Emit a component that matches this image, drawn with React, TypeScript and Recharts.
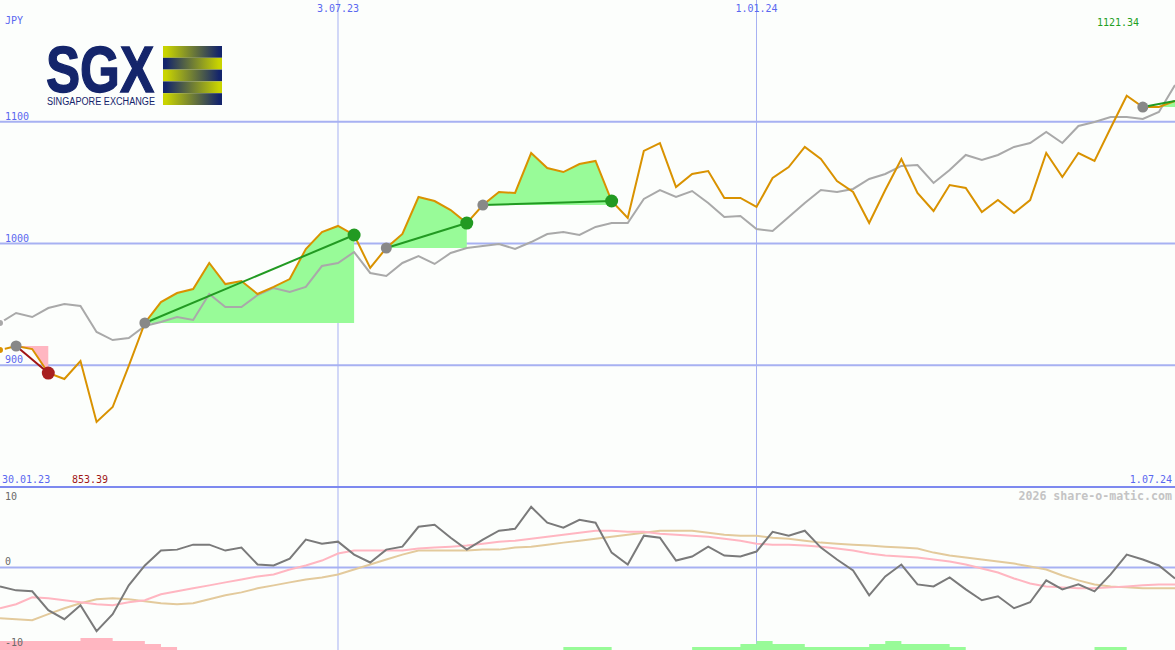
import React from "react";
import { Area, CartesianGrid, ComposedChart, Line, ReferenceLine, XAxis, YAxis } from "recharts";

// weekly closes, index 0 = first week shown
const price = [
  912.5, 915.8, 913.3, 893.6, 888.7, 903.5, 853.39, 865.7, 899.4, 934.7,
  951.9, 959.3, 962.6, 984.0, 966.7, 969.2, 958.5, 964.3, 970.8, 995.5,
  1009.4, 1014.4, 1007.0, 979.9, 996.3, 1007.8, 1038.2, 1034.9, 1027.5, 1016.8,
  1031.6, 1042.3, 1041.5, 1074.3, 1062.0, 1058.7, 1065.3, 1067.8, 1034.9, 1020.9,
  1076.0, 1082.5, 1046.4, 1057.1, 1059.5, 1037.4, 1037.4, 1030.0, 1053.8, 1062.8,
  1079.3, 1069.4, 1051.3, 1042.3, 1016.8, 1043.9, 1069.4, 1041.5, 1026.7, 1048.0,
  1045.6, 1025.9, 1035.7, 1025.0, 1035.7, 1074.3, 1054.6, 1074.3, 1067.8, 1094.9,
  1121.34, 1112.1, 1112.1, 1117.0,
];

// comparison index, rebased to the share price
const benchmark = [
  934.7, 942.9, 939.6, 947.0, 950.3, 948.7, 927.3, 920.7, 922.4, 932.2,
  935.5, 939.6, 937.2, 958.5, 947.8, 947.8, 957.7, 963.5, 960.2, 964.3,
  981.5, 984.0, 993.0, 975.8, 973.3, 984.0, 989.7, 983.2, 992.2, 996.3,
  997.9, 999.6, 995.5, 1001.2, 1007.8, 1009.4, 1007.0, 1013.6, 1016.8, 1016.8,
  1036.6, 1043.9, 1038.2, 1043.1, 1033.3, 1021.8, 1022.6, 1011.9, 1010.3, 1021.8,
  1033.3, 1043.9, 1042.3, 1044.8, 1053.0, 1057.1, 1063.7, 1064.5, 1049.7, 1060.4,
  1072.7, 1068.6, 1072.7, 1079.3, 1082.5, 1091.6, 1082.5, 1096.5, 1099.8, 1103.9,
  1103.9, 1102.3, 1108.0, 1130.2,
];

const momentum = [
  -2.35, -2.84, -2.96, -5.31, -6.42, -4.69, -7.9, -5.8, -2.22, 0.25,
  2.1, 2.22, 2.84, 2.84, 2.1, 2.47, 0.37, 0.25, 1.11, 3.46,
  2.96, 3.21, 1.6, 0.62, 2.22, 2.59, 5.06, 5.31, 3.7, 2.22,
  3.46, 4.57, 4.81, 7.53, 5.56, 4.94, 5.93, 5.56, 1.85, 0.37,
  3.95, 3.7, 0.86, 1.36, 2.59, 1.48, 1.36, 1.98, 4.44, 3.95,
  4.57, 2.47, 0.99, -0.37, -3.46, -1.11, 0.37, -2.1, -2.35, -1.23,
  -2.72, -4.07, -3.58, -5.06, -4.32, -1.6, -2.72, -2.1, -2.96, -0.86,
  1.6, 0.99, 0.25, -1.36,
];

const momentumAvg = [
  -5.06, -4.57, -3.7, -3.83, -4.07, -4.32, -4.57, -4.69, -4.32, -4.07,
  -3.33, -2.96, -2.59, -2.22, -1.85, -1.48, -1.11, -0.86, -0.25, 0.25,
  0.86, 1.73, 2.1, 2.1, 2.1, 2.1, 2.35, 2.47, 2.59, 2.72,
  2.96, 3.21, 3.33, 3.58, 3.83, 4.07, 4.32, 4.57, 4.57, 4.44,
  4.44, 4.2, 4.07, 3.95, 3.83, 3.58, 3.33, 2.96, 2.84, 2.84,
  2.72, 2.59, 2.35, 2.1, 1.73, 1.48, 1.36, 1.23, 0.99, 0.74,
  0.37, -0.12, -0.62, -1.36, -1.98, -2.35, -2.47, -2.59, -2.59, -2.47,
  -2.35, -2.22, -2.1, -2.1,
];

const momentumSlow = [
  -6.3, -6.42, -6.54, -5.8, -5.06, -4.44, -3.95, -3.83, -3.95, -4.2,
  -4.44, -4.57, -4.44, -3.95, -3.46, -3.09, -2.59, -2.22, -1.85, -1.48,
  -1.23, -0.86, -0.25, 0.37, 0.99, 1.6, 2.1, 2.1, 2.1, 2.1,
  2.22, 2.22, 2.47, 2.59, 2.84, 3.09, 3.33, 3.58, 3.83, 4.07,
  4.32, 4.57, 4.57, 4.57, 4.32, 4.07, 3.95, 3.95, 3.7, 3.58,
  3.33, 3.09, 2.96, 2.84, 2.72, 2.59, 2.47, 2.35, 1.85, 1.48,
  1.23, 0.99, 0.74, 0.49, 0.12, -0.25, -0.99, -1.6, -2.1, -2.35,
  -2.47, -2.59, -2.59, -2.59,
];

// signal strength blocks along the bottom
const weakBars = [
  3, 3, 3, 3, 3, 4, 4, 3, 3, 2,
  1, 0, 0, 0, 0, 0, 0, 0, 0, 0,
  0, 0, 0, 0, 0, 0, 0, 0, 0, 0,
  0, 0, 0, 0, 0, 0, 0, 0, 0, 0,
  0, 0, 0, 0, 0, 0, 0, 0, 0, 0,
  0, 0, 0, 0, 0, 0, 0, 0, 0, 0,
  0, 0, 0, 0, 0, 0, 0, 0, 0, 0,
  0, 0, 0, 0,
];
const strongBars = [
  0, 0, 0, 0, 0, 0, 0, 0, 0, 0,
  0, 0, 0, 0, 0, 0, 0, 0, 0, 0,
  0, 0, 0, 0, 0, 0, 0, 0, 0, 0,
  0, 0, 0, 0, 0, 1, 1, 1, 0, 0,
  0, 0, 0, 1, 1, 1, 2, 3, 2, 2,
  1, 1, 1, 1, 2, 3, 2, 2, 2, 1,
  0, 0, 0, 0, 0, 0, 0, 0, 1, 1,
  0, 0, 0, 0,
];

// trend segments (start / end week index)
const trendStarts = [1, 9, 24, 30, 71];
const trendEnds = [3, 22, 29, 38, 73];

const dateMarks = [
  { idx: 21, label: "3.07.23" },
  { idx: 47, label: "1.01.24" },
];
const firstDate = "30.01.23";
const lastDate = "1.07.24";
const priceTicks = [900, 1000, 1100];
const currency = "JPY";

const W = 1175;
const MONO = "DejaVu Sans Mono";
const BG = "#fcfefc";
const GRID = "#a7b1f2";
const DIVIDER = "#7d89ef";
const AXIS_TXT = "#5a68f0";
const ORANGE = "#d99200";
const GREY = "#a9a9a9";
const UP_FILL = "#98fb98";
const DOWN_FILL = "#ffb6c1";
const UP_LINE = "#229a22";
const DOWN_LINE = "#a01414";
const NAVY = "#14256b";
const YEL = "#c9d400";

const last = price.length - 1;
const dateIdx = dateMarks.map((d) => d.idx);

const rows = price.map((p, i) => {
  const row: any = { i, price: p, bench: benchmark[i] };
  trendStarts.forEach((s, k) => {
    const e = trendEnds[k];
    const base = price[s];
    const up = price[e] >= base;
    if (i >= s && i <= e) row[up ? (k % 2 ? "fillA" : "fillB") : "fillDown"] = [base, p];
    if (i === s || i === e) row["t" + k] = p;
  });
  return row;
});

const oscRows = momentum.map((m, i) => ({
  i,
  m,
  avg: momentumAvg[i],
  slow: momentumSlow[i],
  weak: weakBars[i],
  strong: strongBars[i],
}));

const lowVal = Math.min(...price);
const highVal = Math.max(...price);

const trendDot = (k: number) => (props: any) => {
  const { cx, cy, index, value } = props;
  if (value == null || cy == null) return <g key={`d${k}-${index}`} />;
  const s = trendStarts[k];
  const e = trendEnds[k];
  const up = price[e] >= price[s];
  if (index === s) return <circle key={`d${k}-${index}`} cx={cx} cy={cy} r={5.5} fill="#888888" />;
  if (index === e && e !== last)
    return <circle key={`d${k}-${index}`} cx={cx} cy={cy} r={6.5} fill={up ? UP_LINE : "#a82020"} />;
  return <g key={`d${k}-${index}`} />;
};

const aboveLabel = (txt: string, fill: string) => (props: any) => (
  <text x={props.viewBox.x + 5} y={props.viewBox.y - 2} fill={fill} fontSize={10} fontFamily={MONO}>
    {txt}
  </text>
);

const topLabel = (txt: string) => (props: any) => (
  <text x={props.viewBox.x} y={props.viewBox.y + 12} fill={AXIS_TXT} fontSize={10} fontFamily={MONO} textAnchor="middle">
    {txt}
  </text>
);

function Overlay() {
  return (
    <svg width={W} height={650} style={{ position: "absolute", left: 0, top: 0, pointerEvents: "none" }}>
      <defs>
        <linearGradient id="stripeL" x1="0" x2="1" y1="0" y2="0">
          <stop offset="0.05" stopColor={YEL} />
          <stop offset="0.95" stopColor={NAVY} />
        </linearGradient>
        <linearGradient id="stripeR" x1="0" x2="1" y1="0" y2="0">
          <stop offset="0.05" stopColor={NAVY} />
          <stop offset="0.95" stopColor={YEL} />
        </linearGradient>
      </defs>
      <text
        x={46}
        y={92}
        fontFamily="Liberation Sans"
        fontWeight={700}
        fontSize={65}
        fill={NAVY}
        stroke={NAVY}
        strokeWidth={1.4}
        textLength={108}
        lengthAdjust="spacingAndGlyphs"
      >
        SGX
      </text>
      <text x={47} y={105} fontFamily="Liberation Sans" fontSize={10} fill={NAVY} textLength={108} lengthAdjust="spacingAndGlyphs">
        SINGAPORE EXCHANGE
      </text>
      {[0, 1, 2, 3, 4].map((k) => (
        <rect key={k} x={163} y={46 + k * 11.8} width={59} height={11.8} fill={k % 2 ? "url(#stripeR)" : "url(#stripeL)"} />
      ))}
      <text x={5} y={24} fill={AXIS_TXT} fontSize={10} fontFamily={MONO}>{currency}</text>
      <text x={1097} y={26} fill="#22a022" fontSize={10} fontFamily={MONO}>{highVal.toFixed(2)}</text>
      <text x={2} y={483} fill={AXIS_TXT} fontSize={10} fontFamily={MONO}>{firstDate}</text>
      <text x={72} y={483} fill="#a01818" fontSize={10} fontFamily={MONO}>{lowVal.toFixed(2)}</text>
      <text x={1172} y={483} fill={AXIS_TXT} fontSize={10} fontFamily={MONO} textAnchor="end">{lastDate}</text>
      <text x={1172} y={500} fill="#c4c4c4" fontSize={11.6} fontWeight={700} fontFamily={MONO} textAnchor="end">
        2026 share-o-matic.com
      </text>
    </svg>
  );
}

export default function App() {
  return (
    <div style={{ position: "relative", width: W, height: 650, background: BG, overflow: "hidden" }}>
      <style>{"body{margin:0}"}</style>
      <div style={{ position: "absolute", left: 0, top: 0 }}>
        <ComposedChart width={W} height={487} data={rows} margin={{ top: 0, right: 0, bottom: 0, left: 0 }}>
          <XAxis type="number" dataKey="i" domain={[0, last]} ticks={dateIdx} hide />
          <YAxis domain={[800, 1200]} ticks={priceTicks} hide allowDataOverflow />
          <CartesianGrid vertical={false} syncWithTicks stroke={GRID} strokeWidth={2} />
          <CartesianGrid horizontal={false} syncWithTicks stroke={GRID} strokeWidth={1} />
          {priceTicks.map((v) => (
            <ReferenceLine key={v} y={v} stroke="none" label={aboveLabel(String(v), AXIS_TXT)} />
          ))}
          {dateMarks.map((d) => (
            <ReferenceLine key={d.label} x={d.idx} stroke="none" label={topLabel(d.label)} />
          ))}
          <Area dataKey="fillDown" stroke="none" fill={DOWN_FILL} fillOpacity={1} isAnimationActive={false} />
          <Area dataKey="fillA" stroke="none" fill={UP_FILL} fillOpacity={1} isAnimationActive={false} />
          <Area dataKey="fillB" stroke="none" fill={UP_FILL} fillOpacity={1} isAnimationActive={false} />
          <Line dataKey="bench" stroke={GREY} strokeWidth={2} dot={false} isAnimationActive={false} />
          <Line dataKey="price" stroke={ORANGE} strokeWidth={2} dot={false} isAnimationActive={false} />
          {trendStarts.map((s, k) => (
            <Line
              key={k}
              dataKey={"t" + k}
              connectNulls
              stroke={price[trendEnds[k]] >= price[s] ? UP_LINE : DOWN_LINE}
              strokeWidth={2}
              dot={trendDot(k)}
              activeDot={false}
              isAnimationActive={false}
            />
          ))}
        </ComposedChart>
      </div>
      <div style={{ position: "absolute", left: 0, top: 485 }}>
        <ComposedChart width={W} height={165} data={oscRows} margin={{ top: 2, right: 0, bottom: 0, left: 0 }}>
          <XAxis type="number" dataKey="i" domain={[0, last]} ticks={dateIdx} hide />
          <YAxis yAxisId="osc" domain={[-10.25, 10]} ticks={[0]} hide allowDataOverflow />
          <YAxis yAxisId="bars" domain={[0, 54.33]} hide allowDataOverflow />
          <CartesianGrid yAxisId="osc" vertical={false} syncWithTicks stroke={GRID} strokeWidth={2} />
          <CartesianGrid yAxisId="osc" horizontal={false} syncWithTicks stroke={GRID} strokeWidth={1} />
          <ReferenceLine
            yAxisId="osc"
            y={10}
            stroke={DIVIDER}
            strokeWidth={2}
            label={(p: any) => (
              <text x={p.viewBox.x + 5} y={p.viewBox.y + 13} fill="#6a6a6a" fontSize={10} fontFamily={MONO}>10</text>
            )}
          />
          <ReferenceLine yAxisId="osc" y={0} stroke="none" label={aboveLabel("0", "#6a6a6a")} />
          <ReferenceLine yAxisId="osc" y={-10} stroke="none" label={aboveLabel("-10", "#6a6a6a")} />
          <Area yAxisId="bars" type="stepAfter" dataKey="weak" stroke="none" fill={DOWN_FILL} fillOpacity={1} isAnimationActive={false} />
          <Area yAxisId="bars" type="stepAfter" dataKey="strong" stroke="none" fill={UP_FILL} fillOpacity={1} isAnimationActive={false} />
          <Line yAxisId="osc" dataKey="slow" stroke="#e3ca9c" strokeWidth={2} dot={false} isAnimationActive={false} />
          <Line yAxisId="osc" dataKey="avg" stroke="#ffb6c1" strokeWidth={2} dot={false} isAnimationActive={false} />
          <Line yAxisId="osc" dataKey="m" stroke="#7a7a7a" strokeWidth={2} dot={false} isAnimationActive={false} />
        </ComposedChart>
      </div>
      <Overlay />
    </div>
  );
}
